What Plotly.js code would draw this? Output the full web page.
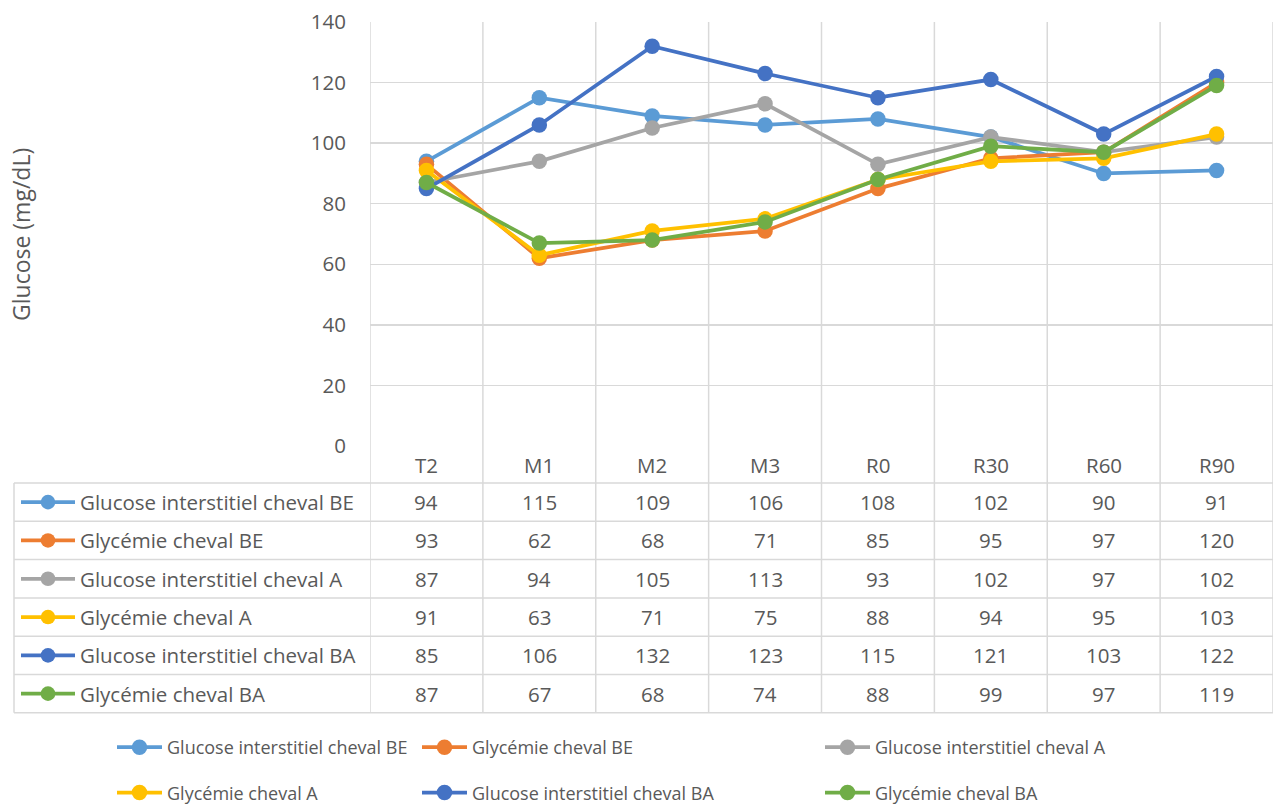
<!DOCTYPE html>
<html>
<head>
<meta charset="utf-8">
<script src="https://cdn.plot.ly/plotly-3.0.1.min.js"></script>
<style>html,body{margin:0;padding:0;background:#fff;}#chart{width:1275px;height:806px;}</style>
</head>
<body>
<div id="chart"></div>
<script>
const categories = ['T2', 'M1', 'M2', 'M3', 'R0', 'R30', 'R60', 'R90'];
const seriesNames = [
  'Glucose interstitiel cheval BE',
  'Glycémie cheval BE',
  'Glucose interstitiel cheval A',
  'Glycémie cheval A',
  'Glucose interstitiel cheval BA',
  'Glycémie cheval BA'
];
const glucoseBE = [94, 115, 109, 106, 108, 102, 90, 91];
const glycemieBE = [93, 62, 68, 71, 85, 95, 97, 120];
const glucoseA = [87, 94, 105, 113, 93, 102, 97, 102];
const glycemieA = [91, 63, 71, 75, 88, 94, 95, 103];
const glucoseBA = [85, 106, 132, 123, 115, 121, 103, 122];
const glycemieBA = [87, 67, 68, 74, 88, 99, 97, 119];
const yTicks = [0, 20, 40, 60, 80, 100, 120, 140];
const yTitle = 'Glucose (mg/dL)';

const seriesValues = [glucoseBE, glycemieBE, glucoseA, glycemieA, glucoseBA, glycemieBA];
const colors = ['#5B9BD5', '#ED7D31', '#A5A5A5', '#FFC000', '#4472C4', '#70AD47'];
const legendIds = ['legend', 'legend2', 'legend3', 'legend', 'legend2', 'legend3'];

const W = 1275, H = 806;
const PL = 370, PR = 1273, PT = 22, PB = 446;
const FONT = '"Open Sans", Lato, sans-serif';
const TXT = '#595959';
const GRID = '#D9D9D9';
const FS = 20.5;
const FS_LEGEND = 18;
const FS_TITLE = 23;

const px2x = p => (p - PL) / (PR - PL);
const py2y = p => (PB - p) / (PB - PT);

const traces = seriesValues.map((vals, i) => ({
  type: 'scatter',
  mode: 'lines+markers',
  x: categories,
  y: vals,
  name: seriesNames[i],
  legend: legendIds[i],
  legendgroup: 'g' + i,
  line: {color: colors[i], width: 3.75},
  marker: {color: colors[i], size: 15.5},
  cliponaxis: false
}));

// Table geometry
const headerTop = 446, rowH = 38.3;
const headerBottom = 483;
const rowTops = seriesNames.map((_, i) => headerBottom + i * rowH);
const tableBottom = headerBottom + seriesNames.length * rowH;

const shapes = [];
const lineStyle = {color: GRID, width: 1.5};
for (let k = 0; k <= categories.length; k++) {
  shapes.push({type: 'line', xref: 'x', yref: 'paper',
    x0: k - 0.5, x1: k - 0.5, y0: 1, y1: py2y(tableBottom), line: lineStyle, layer: 'below'});
}
shapes.push({type: 'line', xref: 'paper', yref: 'paper', x0: px2x(14), x1: px2x(14),
  y0: py2y(headerBottom), y1: py2y(tableBottom), line: lineStyle});
for (let r = 0; r <= seriesNames.length; r++) {
  const yy = py2y(headerBottom + r * rowH);
  shapes.push({type: 'line', xref: 'paper', yref: 'paper', x0: px2x(14), x1: 1,
    y0: yy, y1: yy, line: lineStyle});
}
seriesNames.forEach((n, i) => {
  const cyp = rowTops[i] + rowH / 2;
  const cy = py2y(cyp);
  shapes.push({type: 'line', xref: 'paper', yref: 'paper', x0: px2x(21), x1: px2x(75),
    y0: cy, y1: cy, line: {color: colors[i], width: 3.75}});
  const r = 7.3;
  shapes.push({type: 'circle', xref: 'paper', yref: 'paper',
    x0: px2x(48 - r), x1: px2x(48 + r), y0: py2y(cyp + r), y1: py2y(cyp - r),
    fillcolor: colors[i], line: {width: 0}});
});

const annotations = [];
categories.forEach((c, j) => {
  annotations.push({xref: 'x', yref: 'paper', x: c, y: py2y((headerTop + headerBottom) / 2 + 1),
    text: c, showarrow: false, font: {family: FONT, size: FS, color: TXT}, xanchor: 'center', yanchor: 'middle'});
});
seriesNames.forEach((n, i) => {
  const cy = py2y(rowTops[i] + rowH / 2);
  annotations.push({xref: 'paper', yref: 'paper', x: px2x(78), y: cy, text: n, showarrow: false,
    font: {family: FONT, size: FS, color: TXT}, xanchor: 'left', yanchor: 'middle'});
  seriesValues[i].forEach((v, j) => {
    annotations.push({xref: 'x', yref: 'paper', x: categories[j], y: cy, text: String(v), showarrow: false,
      font: {family: FONT, size: FS, color: TXT}, xanchor: 'center', yanchor: 'middle'});
  });
});
annotations.push({xref: 'paper', yref: 'paper', x: px2x(21), y: py2y(235), text: yTitle, textangle: -90,
  showarrow: false, font: {family: FONT, size: FS_TITLE, color: TXT}, xanchor: 'center', yanchor: 'middle'});

const legendBase = {
  orientation: 'v', xref: 'container', yref: 'container', xanchor: 'left', yanchor: 'top',
  font: {family: FONT, size: FS_LEGEND, color: TXT}, bgcolor: 'rgba(0,0,0,0)',
  traceorder: 'grouped', tracegroupgap: 19, itemwidth: 45, itemclick: false
};

const layout = {
  width: W, height: H,
  margin: {l: PL, r: W - PR, t: PT, b: H - PB, autoexpand: false},
  paper_bgcolor: '#fff', plot_bgcolor: '#fff',
  font: {family: FONT, size: FS, color: TXT},
  showlegend: true,
  legend: Object.assign({}, legendBase, {x: 112 / W, y: 1 - 729 / H}),
  legend2: Object.assign({}, legendBase, {x: 417 / W, y: 1 - 729 / H}),
  legend3: Object.assign({}, legendBase, {x: 820 / W, y: 1 - 729 / H}),
  xaxis: {
    type: 'category', range: [-0.5, categories.length - 0.5],
    showticklabels: false, showgrid: false, zeroline: false, showline: false, ticks: '', fixedrange: true
  },
  yaxis: {
    range: [0, 140], tickvals: yTicks, ticktext: yTicks.map(String),
    showgrid: true, gridcolor: GRID, gridwidth: 1.5, zeroline: false, showline: false, ticks: '',
    ticklabelstandoff: 23,
    tickfont: {family: FONT, size: FS, color: TXT}, fixedrange: true
  },
  shapes: shapes,
  annotations: annotations
};

Plotly.newPlot('chart', traces, layout, {displayModeBar: false, staticPlot: true});
</script>
</body>
</html>
